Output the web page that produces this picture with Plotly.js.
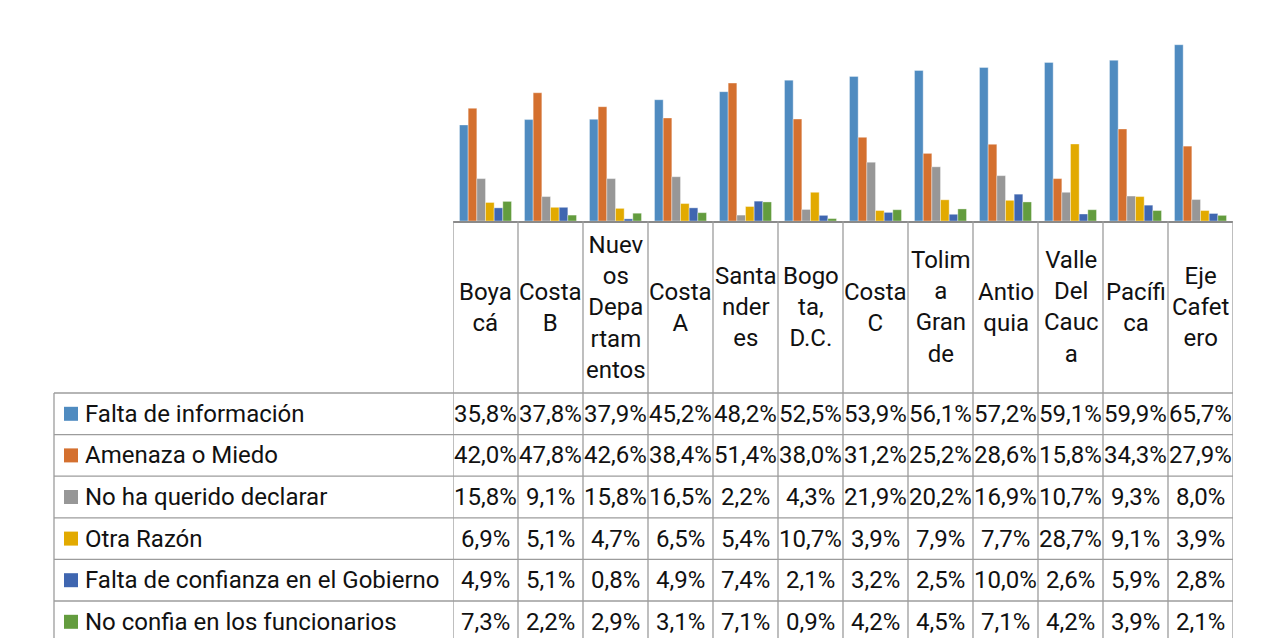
<!DOCTYPE html>
<html><head><meta charset="utf-8">
<script src="https://cdn.plot.ly/plotly-3.0.1.min.js"></script>
<style>html,body{margin:0;padding:0;background:#fff;}#chart{width:1265px;height:638px;}</style>
</head><body><div id="chart"></div>
<script>
const categories = ["Boyacá","Costa B","Nuevos Departamentos","Costa A","Santanderes","Bogota, D.C.","Costa C","Tolima Grande","Antioquia","Valle Del Cauca","Pacífica","Eje Cafetero"];
const headerLabels = ["Boya<br>cá","Costa<br>B","Nuev<br>os<br>Depa<br>rtam<br>entos","Costa<br>A","Santa<br>nder<br>es","Bogo<br>ta,<br>D.C.","Costa<br>C","Tolim<br>a<br>Gran<br>de","Antio<br>quia","Valle<br>Del<br>Cauc<br>a","Pacífi<br>ca","Eje<br>Cafet<br>ero"];
const seriesNames = ["Falta de información","Amenaza o Miedo","No ha querido declarar","Otra Razón","Falta de confianza en el Gobierno","No confia en los funcionarios"];
const faltaInformacion = [35.8,37.8,37.9,45.2,48.2,52.5,53.9,56.1,57.2,59.1,59.9,65.7];
const amenazaMiedo = [42.0,47.8,42.6,38.4,51.4,38.0,31.2,25.2,28.6,15.8,34.3,27.9];
const noHaQueridoDeclarar = [15.8,9.1,15.8,16.5,2.2,4.3,21.9,20.2,16.9,10.7,9.3,8.0];
const otraRazon = [6.9,5.1,4.7,6.5,5.4,10.7,3.9,7.9,7.7,28.7,9.1,3.9];
const faltaConfianzaGobierno = [4.9,5.1,0.8,4.9,7.4,2.1,3.2,2.5,10.0,2.6,5.9,2.8];
const noConfiaFuncionarios = [7.3,2.2,2.9,3.1,7.1,0.9,4.2,4.5,7.1,4.2,3.9,2.1];
const seriesValues = [faltaInformacion, amenazaMiedo, noHaQueridoDeclarar, otraRazon, faltaConfianzaGobierno, noConfiaFuncionarios];
const seriesColors = ["#4F8BC0","#D4702F","#979797","#E2AA00","#3F66B0","#639C3E"];

const W = 1265, H = 638;
const plotLeft = 453, plotRight = 1233, baseline = 221;
const pxPerPct = 2.683;
const tableLeft = 54, rowTop = 393, rowH = 41.6;
const fontFam = "Roboto, 'Liberation Sans', sans-serif";
const fontSize = 24;
const gridColor = "#9c9c9c";
const py = y => 1 - y / H;
const px = x => x / W;

const traces = seriesValues.map((vals, i) => ({
  type: 'bar', name: seriesNames[i], x: categories, y: vals,
  marker: {color: seriesColors[i], line: {color: 'rgba(255,255,255,0.45)', width: 0.8}},
  hoverinfo: 'none', showlegend: false
}));

const shapes = [];
const annotations = [];
// column lines
for (let i = 0; i <= categories.length; i++) {
  shapes.push({type: 'line', xref: 'x', yref: 'paper', x0: i - 0.5, x1: i - 0.5, y0: py(baseline), y1: 0,
    line: {color: gridColor, width: 1.3}});
}
// left border of the legend column
shapes.push({type: 'line', xref: 'paper', yref: 'paper', x0: px(tableLeft), x1: px(tableLeft), y0: py(rowTop), y1: 0,
  line: {color: gridColor, width: 1.3}});
// row lines
for (let r = 0; r <= seriesNames.length; r++) {
  const y = rowTop + r * rowH;
  shapes.push({type: 'line', xref: 'paper', yref: 'paper', x0: px(tableLeft), x1: px(plotRight), y0: py(y), y1: py(y),
    line: {color: gridColor, width: 1.3}});
}
// header labels
categories.forEach((c, i) => {
  annotations.push({xref: 'x', yref: 'paper', x: i, y: py((baseline + rowTop) / 2), text: headerLabels[i],
    showarrow: false, xanchor: 'center', yanchor: 'middle', align: 'center',
    font: {family: fontFam, size: fontSize, color: '#111'}});
});
// rows
seriesNames.forEach((name, r) => {
  const cy = rowTop + (r + 0.5) * rowH;
  shapes.push({type: 'rect', xref: 'paper', yref: 'paper', x0: px(64), x1: px(78), y0: py(cy - 7), y1: py(cy + 7),
    fillcolor: seriesColors[r], line: {width: 0}});
  annotations.push({xref: 'paper', yref: 'paper', x: px(83), y: py(cy), text: name, showarrow: false,
    xanchor: 'left', yanchor: 'middle', font: {family: fontFam, size: fontSize, color: '#111'}});
  seriesValues[r].forEach((v, i) => {
    annotations.push({xref: 'x', yref: 'paper', x: i, y: py(cy), text: v.toFixed(1).replace('.', ',') + '%',
      showarrow: false, xanchor: 'center', yanchor: 'middle', font: {family: fontFam, size: fontSize, color: '#111'}});
  });
});

const layout = {
  width: W, height: H, margin: {l: 0, r: 0, t: 0, b: 0},
  paper_bgcolor: '#fff', plot_bgcolor: '#fff',
  barmode: 'group', bargap: 0.2, bargroupgap: 0,
  xaxis: {domain: [px(plotLeft), px(plotRight)], type: 'category', range: [-0.5, categories.length - 0.5],
    showticklabels: false, ticks: '', showgrid: false, zeroline: false,
    showline: true, linecolor: '#8a8a8a', linewidth: 1.5},
  yaxis: {domain: [py(baseline), 1], range: [0, baseline / pxPerPct], visible: false, showgrid: false, zeroline: false},
  shapes: shapes, annotations: annotations
};
Plotly.newPlot('chart', traces, layout, {displayModeBar: false, staticPlot: true});
</script>
</body></html>
